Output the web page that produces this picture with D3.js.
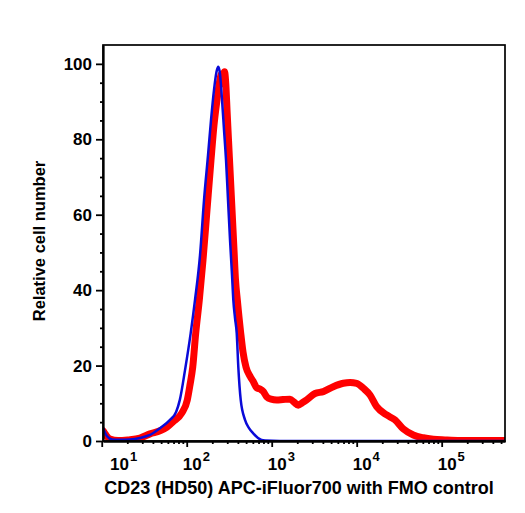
<!DOCTYPE html>
<html>
<head>
<meta charset="utf-8">
<script src="https://cdnjs.cloudflare.com/ajax/libs/d3/7.8.5/d3.min.js"></script>
<style>
    body { margin: 0; background: #fff; }
    text { font-family: "Liberation Sans", Arial, Helvetica, sans-serif; font-weight: bold; }
    .axis path, .axis line { stroke: #000; stroke-width: 1.8px; }
    .line { fill: none; stroke-linejoin: round; stroke-linecap: round; }
</style>
</head>
<body>
<div id="plot"></div>
<script>
// FMO control (blue)
var blueX = [10.4, 11.5, 13.2, 16.4, 21.5, 28.2, 37.0, 48.5, 63.6, 75.0, 83.0, 95.5, 111.4, 125.2, 143.4,
    159.8, 178.1, 193.1, 209.5, 224.2, 235.4, 246.5, 260.2, 274.7, 290.0, 306.1, 323.2, 341.2, 353.4,
    370.1, 387.5, 404.7, 431.9, 485.2, 540.8, 602.6, 690.0, 834.1, 1252, 2153, 32315, 556000];
var blueY = [3.4, 1.3, 0.4, 0.3, 0.4, 0.8, 1.6, 3.4, 5.6, 7.7, 10.9, 18.8, 28.6, 37.4, 49.3,
    63.9, 75.8, 85.1, 93.1, 97.9, 99.2, 97.3, 90.5, 82.5, 74.5, 63.9, 53.3, 44.0, 37.4,
    32.6, 28.6, 19.6, 10.9, 5.6, 3.4, 2.1, 0.8, 0.1, 0, 0, 0, 0];

// CD23 stained (red)
var redX = [10.4, 11.2, 12.5, 15.6, 20.4, 28.2, 37.0, 48.5, 58.6, 70.7, 87.4, 101.6, 109.3, 117.7, 127.6,
    140.7, 155.5, 173.3, 193.1, 209.5, 227.3, 243.2, 256.7, 267.4, 278.4, 290.0, 298.0, 310.2, 323.2,
    341.2, 360.2, 375.1, 393.9, 431.9, 459.6, 498.4, 555.5, 602.6, 666.1, 728.4, 796.6, 873.4, 981.3,
    1145, 1358, 1642, 1830, 2056, 2273, 2581, 3232, 4047, 5305, 6957, 8343, 10000, 11956, 14340,
    17193, 22535, 28224, 35339, 46346, 60750, 79660, 109330, 164210, 556000];
var redY = [2.7, 1.6, 0.5, 0.1, 0.3, 0.8, 1.9, 2.7, 3.7, 5.3, 7.4, 10.9, 14.9, 19.6, 28.6,
    37.4, 48.0, 61.3, 74.5, 83.8, 90.5, 95.2, 97.3, 97.0, 97.9, 93.6, 87.8, 79.8, 71.9,
    61.3, 50.6, 42.7, 37.4, 28.6, 23.6, 19.6, 17.2, 15.9, 14.1, 13.8, 13.1, 11.7, 11.1,
    10.9, 11.0, 11.1, 10.3, 9.5, 10.1, 10.9, 12.6, 13.1, 14.4, 15.3, 15.5, 15.3, 14.0, 12.2,
    9.1, 6.9, 5.6, 3.2, 1.6, 0.85, 0.45, 0.27, 0.13, 0.13];

var xDomain = [10.35, 556000];
var yDomain = [0, 105];
var xDecades = [1, 2, 3, 4, 5];
var yMajor = [0, 20, 40, 60, 80, 100];
var xTitle = "CD23 (HD50) APC-iFluor700 with FMO control";
var yTitle = "Relative cell number";

function zip_data(xData, yData) {
    var data = [];
    for (var i = 0; i < xData.length; i++) {
        data.push({x: xData[i], y: yData[i]});
    }
    return data;
}

function plot_hist() {
    var width = 525,
        height = 513,
        margin = {left: 103, top: 45, right: 20, bottom: 72},
        g_width = width - margin.left - margin.right,
        g_height = height - margin.top - margin.bottom;

    var svg = d3.select("#plot")
        .append("svg")
        .attr("width", width)
        .attr("height", height);

    var xScale = d3.scaleLog()
        .domain(xDomain)
        .range([margin.left, margin.left + g_width]);

    var yScale = d3.scaleLinear()
        .domain(yDomain)
        .range([margin.top + g_height, margin.top]);

    // minor ticks: 2..9 of every decade, 5-steps on y
    var xMinor = [];
    for (var e = 1; e <= 5; e++) {
        for (var m = 2; m <= 9; m++) {
            var v = m * Math.pow(10, e);
            if (v <= xDomain[1]) xMinor.push(v);
        }
    }
    var yMinor = d3.range(5, 100, 5).filter(function (d) { return d % 20 != 0; });

    svg.append("defs").append("clipPath")
        .attr("id", "clip")
        .append("rect")
        .attr("x", margin.left)
        .attr("y", margin.top)
        .attr("width", g_width)
        .attr("height", g_height);

    var line_generator = d3.line()
        .curve(d3.curveMonotoneX)
        .x(function (d) { return xScale(d.x); })
        .y(function (d) { return yScale(d.y); });

    var plot = svg.append("g").attr("clip-path", "url(#clip)");

    plot.append("path")
        .attr("class", "line")
        .attr("stroke", "#ff0000")
        .attr("stroke-width", 7)
        .attr("d", line_generator(zip_data(redX, redY)));

    plot.append("path")
        .attr("class", "line")
        .attr("stroke", "#0a0ad8")
        .attr("stroke-width", 2.5)
        .attr("d", line_generator(zip_data(blueX, blueY)));

    // frame
    svg.append("rect")
        .attr("x", margin.left)
        .attr("y", margin.top)
        .attr("width", g_width)
        .attr("height", g_height)
        .attr("fill", "none")
        .attr("stroke", "#000")
        .attr("stroke-width", 1.7);

    // x axis
    var xAxis = d3.axisBottom(xScale)
        .tickValues(xDecades.map(function (d) { return Math.pow(10, d); }))
        .tickSizeInner(6)
        .tickSizeOuter(0)
        .tickFormat("");
    var xAxisMinor = d3.axisBottom(xScale)
        .tickValues(xMinor)
        .tickSizeInner(3)
        .tickSizeOuter(0)
        .tickFormat("");

    svg.append("g")
        .attr("class", "axis")
        .attr("transform", `translate(0,${margin.top + g_height})`)
        .call(xAxisMinor);
    svg.append("g")
        .attr("class", "axis")
        .attr("transform", `translate(0,${margin.top + g_height})`)
        .call(xAxis);

    // 10^n labels
    var xLabels = svg.append("g").selectAll("text")
        .data(xDecades)
        .enter().append("text")
        .attr("x", function (d) { return Math.max(xScale(Math.pow(10, d)) - 4, margin.left + 7); })
        .attr("y", margin.top + g_height + 29)
        .attr("font-size", 17);
    xLabels.append("tspan").text("10");
    xLabels.append("tspan")
        .attr("font-size", 13)
        .attr("dy", -9)
        .attr("dx", 1)
        .text(function (d) { return d; });

    // y axis
    var yAxis = d3.axisLeft(yScale)
        .tickValues(yMajor)
        .tickSizeInner(7)
        .tickSizeOuter(0)
        .tickPadding(4);
    var yAxisMinor = d3.axisLeft(yScale)
        .tickValues(yMinor)
        .tickSizeInner(3)
        .tickSizeOuter(0)
        .tickFormat("");

    svg.append("g")
        .attr("class", "axis")
        .attr("transform", `translate(${margin.left},0)`)
        .call(yAxisMinor);
    svg.append("g")
        .attr("class", "axis")
        .attr("transform", `translate(${margin.left},0)`)
        .call(yAxis)
        .selectAll("text")
        .attr("font-size", 17)
        .attr("font-family", "Liberation Sans, Arial, sans-serif")
        .attr("font-weight", "bold")
        .attr("fill", "#000");

    // titles
    svg.append("text")
        .attr("x", 299)
        .attr("y", 494)
        .attr("text-anchor", "middle")
        .attr("font-size", 18)
        .text(xTitle);

    svg.append("text")
        .attr("transform", "translate(45,241) rotate(-90)")
        .attr("text-anchor", "middle")
        .attr("font-size", 16.5)
        .text(yTitle);
}

plot_hist();
</script>
</body>
</html>
